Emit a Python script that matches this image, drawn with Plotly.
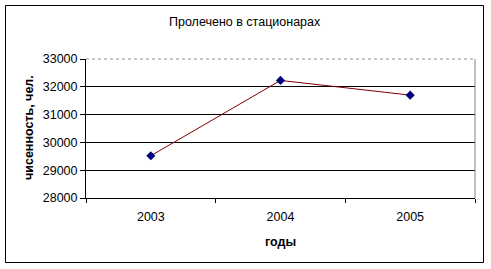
import plotly.graph_objects as go

years = ["2003", "2004", "2005"]
values = [29520, 32230, 31700]
y_ticks = [28000, 29000, 30000, 31000, 32000, 33000]
y_tick_labels = [str(v) for v in y_ticks]

title_text = "Пролечено в стационарах"
x_title = "годы"
y_title = "чисенность, чел."

W, H = 491, 269
L, R, T, B = 86, 475, 59, 198
pw, ph = R - L, B - T

def px(x):
    return (x - L) / pw

def py(y):
    return (B - y) / ph

fig = go.Figure()
fig.add_trace(go.Scatter(
    x=years, y=values, mode="lines+markers",
    line=dict(color="#800000", width=1),
    marker=dict(symbol="diamond", size=7, color="#000080"),
    showlegend=False,
))

font = "Liberation Sans, Arial, sans-serif"
fig.update_layout(
    width=W, height=H,
    margin=dict(l=L, r=W - R, t=T, b=H - B),
    paper_bgcolor="white", plot_bgcolor="white",
    font=dict(family=font, size=12, color="black"),
    xaxis=dict(
        type="category", tickson="boundaries", showgrid=False,
        range=[-0.5, len(years) - 0.5],
        showline=True, linecolor="black", linewidth=1,
        ticks="outside", ticklen=4, tickcolor="black",
        ticklabelstandoff=7,
        tickfont=dict(size=12.5), zeroline=False,
    ),
    yaxis=dict(
        range=[28000, 33000], tickvals=y_ticks, ticktext=y_tick_labels,
        showgrid=True, gridcolor="black", gridwidth=1,
        showline=True, linecolor="black", linewidth=1,
        ticks="outside", ticklen=5, tickcolor="black",
        tickfont=dict(size=12.5), zeroline=False,
    ),
    shapes=[
        dict(type="line", xref="paper", yref="paper", x0=0, x1=1, y0=1, y1=1,
             line=dict(color="white", width=2)),
        dict(type="line", xref="paper", yref="paper", x0=0, x1=1, y0=1, y1=1,
             line=dict(color="#909090", width=1, dash="dot")),
        dict(type="line", xref="paper", yref="paper", x0=1, x1=1, y0=0, y1=1,
             line=dict(color="#808080", width=1)),
        dict(type="rect", xref="paper", yref="paper",
             x0=px(5.5), x1=px(483.5), y0=py(262.5), y1=py(5.5),
             line=dict(color="black", width=1)),
    ],
    annotations=[
        dict(text=title_text, xref="paper", yref="paper", x=px(245), y=py(22),
             xanchor="center", yanchor="middle", showarrow=False,
             font=dict(size=12.5)),
        dict(text="<b>" + x_title + "</b>", xref="paper", yref="paper",
             x=px(280), y=py(242), xanchor="center", yanchor="middle",
             showarrow=False, font=dict(size=12.5)),
        dict(text="<b>" + y_title + "</b>", xref="paper", yref="paper",
             x=px(29), y=py(128), xanchor="center", yanchor="middle",
             textangle=-90, showarrow=False, font=dict(size=12.5)),
    ],
)

fig.write_html("out.html")
